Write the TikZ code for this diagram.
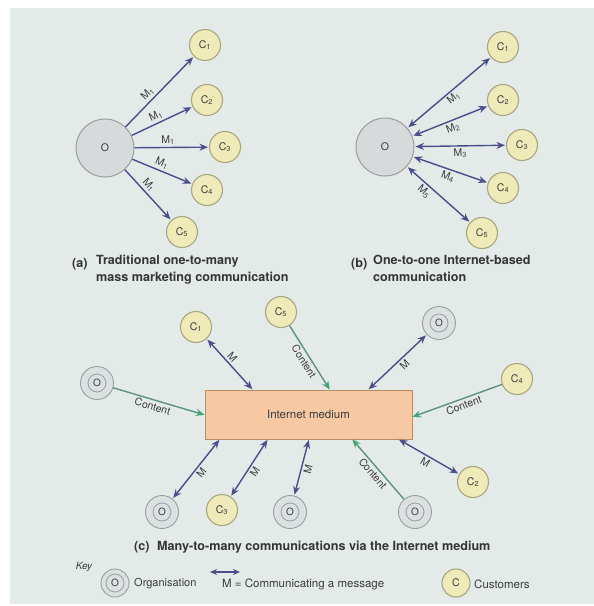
\documentclass[tikz,border=0pt]{standalone}
\usepackage{fontspec}
\setmainfont{TeX Gyre Heros}
\usetikzlibrary{arrows.meta}

\definecolor{panel}{HTML}{E3EAE8}
\definecolor{custfill}{HTML}{EFEBB8}
\definecolor{custline}{HTML}{A9A682}
\definecolor{orgfill}{HTML}{D6DADB}
\definecolor{orgline}{HTML}{9A9EA0}
\definecolor{msg}{HTML}{4A4F8C}
\definecolor{cont}{HTML}{5E927F}
\definecolor{conthead}{HTML}{3FA872}
\definecolor{boxfill}{HTML}{F6C9A2}
\definecolor{boxline}{HTML}{C08A64}
\definecolor{ink}{HTML}{3A3C3E}

\tikzset{
  cust/.style={circle, draw=custline, line width=1.1pt, fill=custfill,
    minimum size=31pt, inner sep=0pt, text=ink, font=\fontsize{10.5}{10.5}\selectfont},
  bigorg/.style={circle, draw=orgline, line width=1pt, fill=orgfill,
    minimum size=58pt, inner sep=0pt, text=ink, font=\fontsize{10.5}{10.5}\selectfont},
  org/.style={circle, draw=orgline, line width=0.9pt, fill=orgfill!60!panel,
    minimum size=33pt, inner sep=0pt, text=ink, font=\fontsize{10}{10}\selectfont,
    path picture={\draw[orgline, line width=0.8pt]
      (path picture bounding box.center) circle (9pt);}},
  keyorg/.style={org, minimum size=28pt},
  keycust/.style={cust, minimum size=28pt},
  oneway/.style={draw=msg, line width=1.4pt, shorten >=1pt,
    -{Stealth[length=8.5pt, width=7pt]}},
  twoway/.style={draw=msg, line width=1.4pt, shorten >=1pt, shorten <=1pt,
    {Stealth[length=8.5pt, width=7pt]}-{Stealth[length=8.5pt, width=7pt]}},
  content/.style={draw=cont, line width=1.4pt, shorten >=0.5pt,
    -{Stealth[length=8.5pt, width=7pt, color=conthead]}},
  lab/.style={sloped, text=ink, font=\fontsize{10.5}{10.5}\selectfont, inner sep=2pt},
  caption/.style={text=ink!90!black, font=\fontsize{12.6}{16.5}\selectfont\bfseries,
    inner sep=0pt},
  keytext/.style={text=ink, font=\fontsize{11.5}{11.5}\selectfont, inner sep=0pt},
}

\newcommand{\Cs}[1]{C\textsubscript{#1}}
\newcommand{\Ms}[1]{M\textsubscript{#1}}

\begin{document}
\begin{tikzpicture}[x=1pt, y=-1pt]
  \useasboundingbox (0,0) rectangle (594,606);
  \fill[white] (0,0) rectangle (594,606);
  \fill[panel] (10,8) rectangle (594,604);

  % ---------- (a) one-to-many ----------
  \node[bigorg] (Oa) at (105,148) {O};
  \node[cust] (a1) at (205,45) {\Cs{1}};
  \node[cust] (a2) at (207,100) {\Cs{2}};
  \node[cust] (a3) at (225,147) {\Cs{3}};
  \node[cust] (a4) at (207,190) {\Cs{4}};
  \node[cust] (a5) at (182,232) {\Cs{5}};
  \draw[oneway] (Oa) -- node[lab, above, pos=0.4] {\Ms{1}} (a1);
  \draw[oneway] (Oa) -- node[lab, above, pos=0.45] {\Ms{1}} (a2);
  \draw[oneway] (Oa) -- node[lab, above, pos=0.45] {\Ms{1}} (a3);
  \draw[oneway] (Oa) -- node[lab, above, pos=0.45] {\Ms{1}} (a4);
  \draw[oneway] (Oa) -- node[lab, above, pos=0.4] {\Ms{1}} (a5);

  \node[caption, anchor=base west] at (72,267) {(a)};
  \node[caption, anchor=north west, align=left] at (96,255)
    {Traditional one-to-many\\mass marketing communication};

  % ---------- (b) one-to-one ----------
  \node[bigorg] (Ob) at (385,147) {O};
  \node[cust] (b1) at (503,47) {\Cs{1}};
  \node[cust] (b2) at (503,100) {\Cs{2}};
  \node[cust] (b3) at (522,145) {\Cs{3}};
  \node[cust] (b4) at (503,188) {\Cs{4}};
  \node[cust] (b5) at (482,233) {\Cs{5}};
  \draw[twoway] (Ob) -- node[lab, below, pos=0.5] {\Ms{1}} (b1);
  \draw[twoway] (Ob) -- node[lab, below, pos=0.5] {\Ms{2}} (b2);
  \draw[twoway] (Ob) -- node[lab, below, pos=0.5] {\Ms{3}} (b3);
  \draw[twoway] (Ob) -- node[lab, below, pos=0.5] {\Ms{4}} (b4);
  \draw[twoway] (Ob) -- node[lab, below, pos=0.35] {\Ms{5}} (b5);

  \node[caption, anchor=base west] at (351,267) {(b)};
  \node[caption, anchor=north west, align=left] at (373,255)
    {One-to-one Internet-based\\communication};

  % ---------- (c) many-to-many ----------
  \node[draw=boxline, line width=1pt, fill=boxfill, minimum width=207pt,
    minimum height=49pt, text=ink, font=\fontsize{11.5}{11.5}\selectfont]
    (net) at (308.5,414.5) {Internet medium};

  \node[org]  (cOl)  at (97,383)  {O};
  \node[cust] (cC1)  at (196,327) {\Cs{1}};
  \node[cust] (cC5)  at (281,312) {\Cs{5}};
  \node[org]  (cOtr) at (439,323) {O};
  \node[cust] (cC4)  at (517,379) {\Cs{4}};
  \node[org]  (cOb1) at (162,512) {O};
  \node[cust] (cC3)  at (222,510) {\Cs{3}};
  \node[org]  (cOb2) at (290,512) {O};
  \node[org]  (cOb3) at (415,512) {O};
  \node[cust] (cC2)  at (473,482) {\Cs{2}};

  % attachment points on the medium box
  \coordinate (tC1)  at (253,390);
  \coordinate (tC5)  at (330,390);
  \coordinate (tOtr) at (368,390);
  \coordinate (lOl)  at (205,415);
  \coordinate (rC4)  at (412,417);
  \coordinate (bOb1) at (220,439);
  \coordinate (bC3)  at (268,439);
  \coordinate (bOb2) at (309,439);
  \coordinate (bOb3) at (352,439);
  \coordinate (bC2)  at (398,439);

  \draw[content] (cOl) -- node[lab, below, pos=0.45] {Content} (lOl);
  \draw[twoway] (cC1) -- node[lab, above, pos=0.45] {M} (tC1);
  \draw[content] (cC5) -- node[lab, below, pos=0.5] {Content} (tC5);
  \draw[twoway] (tOtr) -- node[lab, below, pos=0.55] {M} (cOtr);
  \draw[content] (cC4) -- node[lab, below, pos=0.45] {Content} (rC4);
  \draw[twoway] (cOb1) -- node[lab, below, pos=0.5] {M} (bOb1);
  \draw[twoway] (cC3) -- node[lab, below, pos=0.5] {M} (bC3);
  \draw[twoway] (cOb2) -- node[lab, below, pos=0.5] {M} (bOb2);
  \draw[content] (cOb3) -- node[lab, below, pos=0.5] {Content} (bOb3);
  \draw[twoway] (bC2) -- node[lab, below, pos=0.5] {M} (cC2);

  \node[caption, anchor=base west] at (134,550) {(c)};
  \node[caption, anchor=base west] at (157,550)
    {Many-to-many communications via the Internet medium};

  % ---------- key ----------
  \node[keytext, font=\fontsize{10}{10}\selectfont\itshape] (keyword) at (84,567) {Key};
  \node[keyorg] (kO) at (115,583) {O};
  \node[keytext, anchor=west, font=\fontsize{11}{11}\selectfont] (kOt) at (134,584) {Organisation};
  \coordinate (k1) at (210,572);
  \coordinate (k2) at (240,572);
  \draw[draw=msg, line width=1.2pt,
    {Stealth[length=7pt, width=6pt]}-{Stealth[length=7pt, width=6pt]}] (k1) -- (k2);
  \node[keytext, anchor=west] (kMt) at (222,584) {M = Communicating a message};
  \node[keycust] (kC) at (456,583) {C};
  \node[keytext, anchor=west] (kCt) at (474,584) {Customers};
\end{tikzpicture}
\end{document}
